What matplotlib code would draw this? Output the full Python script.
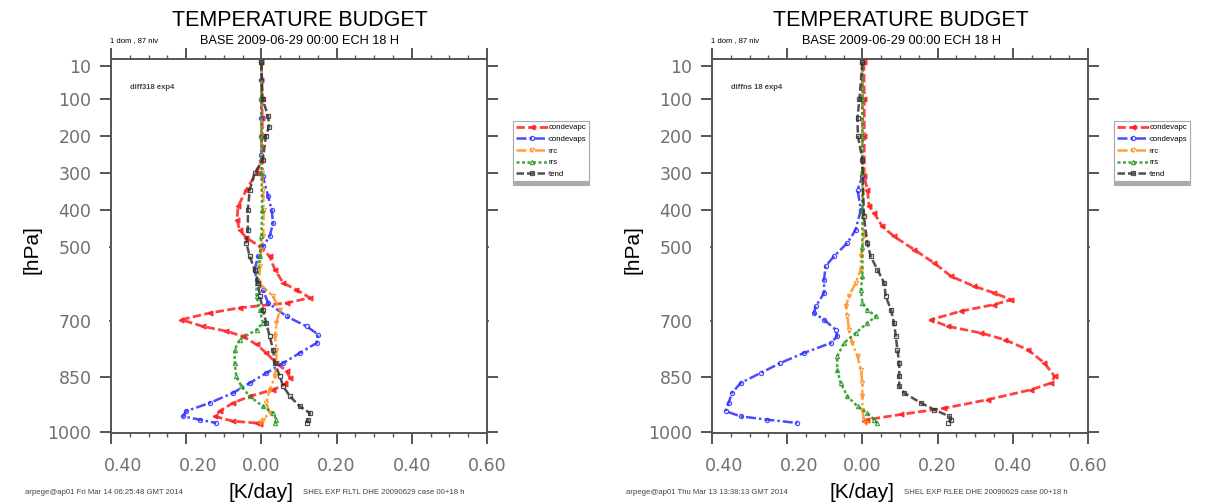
import matplotlib
matplotlib.use("Agg")
import matplotlib.pyplot as plt
from matplotlib.ticker import FixedLocator, FixedFormatter, MultipleLocator
from matplotlib.transforms import ScaledTranslation

# ---------------- data ----------------
series_names = ["condevapc", "condevaps", "rrc", "rrs", "tend"]

# left panel
condevapc_L_p = [1, 50, 100, 150, 200, 264, 300, 345, 390, 426, 453, 475, 498, 525, 561, 597, 615, 637, 651, 664, 678, 696, 714, 727, 741, 763, 786, 813, 835, 853, 871, 885, 903, 921, 943, 957, 970, 975, 979]
condevapc_L_v = [0.0, 0.0, 0.002, 0.002, 0.003, 0.0, -0.013, -0.04, -0.062, -0.065, -0.058, -0.04, -0.004, 0.022, 0.036, 0.058, 0.093, 0.129, 0.067, -0.058, -0.138, -0.213, -0.156, -0.093, -0.049, -0.013, 0.013, 0.04, 0.067, 0.076, 0.062, 0.031, -0.031, -0.076, -0.111, -0.124, -0.076, -0.013, -0.004]
condevaps_L_p = [1, 50, 100, 150, 200, 250, 309, 363, 399, 435, 471, 498, 525, 561, 588, 615, 651, 687, 714, 736, 759, 786, 813, 840, 867, 894, 921, 943, 957, 966, 975]
condevaps_L_v = [0.0, 0.0, 0.0, 0.0, 0.0, 0.0, 0.004, 0.018, 0.027, 0.031, 0.022, 0.004, -0.009, -0.018, -0.013, 0.004, 0.018, 0.067, 0.12, 0.151, 0.147, 0.102, 0.058, 0.013, -0.031, -0.076, -0.138, -0.2, -0.209, -0.164, -0.12]
rrc_L_p = [1, 100, 200, 300, 345, 400, 471, 507, 552, 597, 633, 669, 705, 741, 777, 813, 849, 885, 921, 948, 966, 975]
rrc_L_v = [0.0, 0.0, 0.0, 0.002, 0.005, 0.006, 0.005, 0.0, -0.004, -0.006, 0.031, 0.049, 0.04, 0.036, 0.04, 0.04, 0.036, 0.022, 0.013, 0.022, 0.004, -0.004]
rrs_L_p = [1, 100, 200, 300, 400, 471, 525, 597, 633, 669, 705, 723, 750, 777, 813, 849, 876, 903, 930, 948, 966, 975]
rrs_L_v = [0.0, 0.0, 0.0, 0.0, 0.002, 0.0, -0.004, -0.013, -0.013, -0.004, 0.004, -0.013, -0.058, -0.071, -0.071, -0.067, -0.053, -0.031, 0.004, 0.031, 0.04, 0.036]
tend_L_p = [1, 100, 147, 175, 200, 264, 300, 345, 399, 453, 489, 525, 561, 597, 633, 669, 705, 741, 777, 813, 849, 876, 903, 930, 948, 966, 975]
tend_L_v = [0.0, 0.003, 0.018, 0.02, 0.012, 0.004, -0.018, -0.031, -0.036, -0.036, -0.04, -0.031, -0.018, -0.009, -0.004, 0.004, 0.013, 0.022, 0.031, 0.036, 0.049, 0.058, 0.076, 0.102, 0.129, 0.124, 0.12]

# right panel
condevapc_R_p = [1, 100, 200, 309, 345, 390, 408, 444, 471, 507, 543, 579, 606, 624, 642, 655, 673, 696, 714, 732, 750, 777, 813, 849, 867, 885, 912, 935, 952, 966, 970]
condevapc_R_v = [0.004, 0.005, 0.005, 0.005, 0.013, 0.018, 0.031, 0.053, 0.084, 0.138, 0.191, 0.236, 0.298, 0.351, 0.396, 0.351, 0.262, 0.182, 0.227, 0.316, 0.378, 0.44, 0.484, 0.511, 0.502, 0.449, 0.333, 0.218, 0.102, 0.013, 0.004]
condevaps_R_p = [1, 100, 200, 309, 345, 399, 453, 489, 525, 552, 588, 624, 660, 678, 696, 723, 741, 759, 786, 813, 840, 867, 894, 921, 943, 957, 966, 975]
condevaps_R_v = [0.0, 0.0, 0.0, 0.0, -0.013, -0.004, -0.018, -0.04, -0.076, -0.098, -0.102, -0.102, -0.124, -0.129, -0.102, -0.071, -0.067, -0.084, -0.156, -0.218, -0.271, -0.324, -0.347, -0.356, -0.364, -0.324, -0.253, -0.173]
rrc_R_p = [1, 100, 200, 300, 417, 471, 525, 561, 597, 633, 660, 687, 723, 759, 795, 831, 867, 903, 939, 966, 975]
rrc_R_v = [0.0, 0.0, 0.0, 0.0, 0.002, 0.004, -0.004, -0.004, -0.018, -0.036, -0.044, -0.04, -0.036, -0.027, -0.013, -0.004, 0.0, 0.0, 0.0, 0.004, 0.009]
rrs_R_p = [1, 100, 200, 300, 400, 500, 579, 615, 651, 669, 687, 705, 732, 759, 795, 831, 867, 903, 930, 948, 966, 975]
rrs_R_v = [0.0, 0.0, 0.0, 0.0, 0.0, 0.0, 0.0, -0.004, 0.0, 0.013, 0.036, 0.013, -0.018, -0.049, -0.067, -0.067, -0.058, -0.04, -0.013, 0.013, 0.031, 0.04]
tend_R_p = [1, 100, 150, 200, 264, 417, 489, 525, 561, 597, 633, 669, 705, 741, 777, 813, 849, 876, 894, 921, 939, 957, 966, 975]
tend_R_v = [0.0, -0.008, -0.013, -0.012, 0.0, 0.004, 0.013, 0.022, 0.04, 0.058, 0.062, 0.076, 0.084, 0.089, 0.093, 0.098, 0.098, 0.098, 0.111, 0.156, 0.191, 0.231, 0.236, 0.227]

x_ticks = [-0.4, -0.2, 0.0, 0.2, 0.4, 0.6]
x_ticklabels = ["0.40", "0.20", "0.00", "0.20", "0.40", "0.60"]
y_major = [10, 100, 200, 300, 400, 850, 1000]
y_major_labels = ["10", "100", "200", "300", "400", "850", "1000"]
y_minor = [500, 700]
y_minor_labels = ["500", "700"]

title = "TEMPERATURE BUDGET"
subtitle_left = "1 dom , 87 niv"
subtitle_main = "BASE 2009-06-29 00:00 ECH 18 H"
inner_labels = ["diff318 exp4", "diffns 18 exp4"]
footer_left = ["arpege@ap01 Fri Mar 14 06:25:48 GMT 2014", "arpege@ap01 Thu Mar 13 13:38:13 GMT 2014"]
footer_right = ["SHEL EXP RLTL DHE 20090629 case 00+18 h", "SHEL EXP RLEE DHE 20090629 case 00+18 h"]

# ---------------- styles ----------------
styles = {
    "condevapc": dict(color="#ff2020", ls=(0, (3, 1.2)), marker="<", mfc="#ff2020", lw=2.0, ms=3.5),
    "condevaps": dict(color="#2b2bff", ls=(0, (4, 1.2, 1, 1.2)), marker="o", mfc="none", lw=1.8, ms=3),
    "rrc": dict(color="#ff9020", ls=(0, (4, 1.2, 1, 1.2)), marker="v", mfc="none", lw=1.8, ms=3),
    "rrs": dict(color="#229922", ls=(0, (1.2, 1.0)), marker="^", mfc="none", lw=1.8, ms=3),
    "tend": dict(color="#333333", ls=(0, (3, 1.2)), marker="s", mfc="none", lw=1.8, ms=3),
}

panels = [
    dict(data=[(condevapc_L_p, condevapc_L_v), (condevaps_L_p, condevaps_L_v), (rrc_L_p, rrc_L_v),
               (rrs_L_p, rrs_L_v), (tend_L_p, tend_L_v)], left=111),
    dict(data=[(condevapc_R_p, condevapc_R_v), (condevaps_R_p, condevaps_R_v), (rrc_R_p, rrc_R_v),
               (rrs_R_p, rrs_R_v), (tend_R_p, tend_R_v)], left=712),
]

W, H = 1212, 504
plt.rcParams["font.family"] = ["Liberation Sans", "DejaVu Sans"]
fig = plt.figure(figsize=(W / 100, H / 100), dpi=100)

axcol = "#555555"
tickcol = "#707070"
for i, pan in enumerate(panels):
    l = pan["left"]
    ax = fig.add_axes([l / W, 1 - 433 / H, 376 / W, 374 / H])
    for name, (p, v) in zip(series_names, pan["data"]):
        st = styles[name]
        ax.plot(v, p, color=st["color"], ls=st["ls"], lw=st["lw"], marker=st["marker"],
                mfc=st["mfc"], mec=st["color"], ms=st["ms"], mew=0.9, alpha=0.85, label=name)
    ax.set_xlim(-0.4, 0.6)
    ax.set_ylim(1002, -8)
    ax.xaxis.set_major_locator(FixedLocator(x_ticks))
    ax.xaxis.set_major_formatter(FixedFormatter(x_ticklabels))
    ax.xaxis.set_minor_locator(MultipleLocator(0.05))
    ax.yaxis.set_major_locator(FixedLocator(y_major))
    ax.yaxis.set_major_formatter(FixedFormatter(y_major_labels))
    ax.yaxis.set_minor_locator(FixedLocator(y_minor))
    ax.yaxis.set_minor_formatter(FixedFormatter(y_minor_labels))
    ax.tick_params(axis="both", which="major", direction="out", length=8, width=1.4,
                   color=axcol, labelcolor=tickcol, labelsize=12.5,
                   top=True, right=True)
    ax.tick_params(axis="x", which="minor", direction="out", length=3, width=1.0, color=axcol,
                   top=True, bottom=True)
    ax.tick_params(axis="y", which="minor", direction="out", length=1.5, width=1.2, color=axcol,
                   labelcolor=tickcol, labelsize=12.5, left=True, right=True)
    ax.tick_params(axis="x", which="major", pad=9)
    ax.tick_params(axis="y", which="major", pad=6)
    ax.tick_params(axis="y", which="minor", pad=12.5)
    for lab in ax.get_xticklabels() + ax.get_yticklabels() + ax.get_yticklabels(minor=True):
        lab.set_fontfamily("DejaVu Sans")
    for lab in ax.get_xticklabels()[:2]:
        lab.set_transform(lab.get_transform() + ScaledTranslation(12 / 100, 0, fig.dpi_scale_trans))
    for s in ax.spines.values():
        s.set_color(axcol)
        s.set_linewidth(1.4)
    ax.set_ylabel("[hPa]", fontsize=15, va="center")
    ax.yaxis.set_label_coords(-79 / 376, 0.49)
    ax.set_xlabel("[K/day]", fontsize=15, va="center")
    ax.xaxis.set_label_coords(0.4, -59 / 374)
    ax.text(0.05, 0.92, inner_labels[i], transform=ax.transAxes, fontsize=5.5, color="#444444",
            fontweight="bold")
    leg = ax.legend(loc="upper left", bbox_to_anchor=(1.068, 0.835), fontsize=5.6, frameon=True,
                    handlelength=4.1, handletextpad=0.1, borderpad=0.4, labelspacing=0.55,
                    borderaxespad=0, fancybox=False,
                    shadow={"color": "#aaaaaa", "alpha": 1, "ox": 0, "oy": -3})
    leg.get_frame().set_edgecolor("#aaaaaa")
    leg.get_frame().set_linewidth(0.8)
    # titles
    cx = (l + 189) / W
    fig.text(cx, 1 - 20 / H, title, ha="center", va="center", fontsize=15.5)
    fig.text((l - 1) / W, 1 - 41 / H, subtitle_left, ha="left", va="center", fontsize=5.5)
    fig.text((l + 189) / W, 1 - 41 / H, subtitle_main, ha="center", va="center", fontsize=9.2)
    fig.text((l - 86) / W, 1 - 493 / H, footer_left[i], ha="left", va="center", fontsize=5.6,
             color="#444444")
    fig.text((l + 192) / W, 1 - 493 / H, footer_right[i], ha="left", va="center", fontsize=5.6,
             color="#444444")

fig.savefig("out.png", dpi=100)
